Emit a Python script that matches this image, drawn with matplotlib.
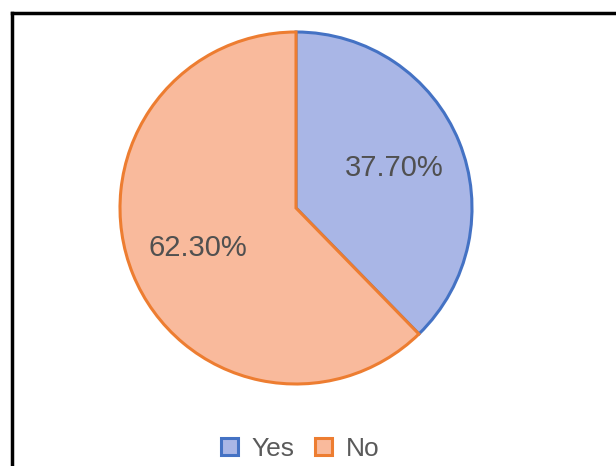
import matplotlib.pyplot as plt
from matplotlib.lines import Line2D

#data
labels = ['Yes', 'No']
values = [37.7, 62.3]
fills = ['#A9B6E6', '#F9BA9C']
edges = ['#4472C4', '#ED7D31']

#figure
fig = plt.figure(figsize=(6.16, 4.66), dpi=100)
W, H = 616, 466
cx, cy, r = 296, 208, 176
ax = fig.add_axes([(cx - r) / W, (H - cy - r) / H, 2 * r / W, 2 * r / H])

wedges, texts, autotexts = ax.pie(values, colors=fills, startangle=90, counterclock=False,
                                  autopct='%.2f%%', pctdistance=0.6,
                                  wedgeprops=dict(linewidth=2.2),
                                  textprops=dict(fontsize=21, color='#505050', family='Liberation Sans'))
for w, ec in zip(wedges, edges):
    w.set_edgecolor(ec)
ax.set_xlim(-1, 1)
ax.set_ylim(-1, 1)

#frame lines (top and left)
fig.add_artist(Line2D([12 / W, 1], [1 - 13 / H, 1 - 13 / H], color='black', lw=2.5))
fig.add_artist(Line2D([12 / W, 12 / W], [0, 1 - 13 / H], color='black', lw=2.5))

#legend
leg = fig.legend(wedges, labels, loc='lower center', bbox_to_anchor=(0.487, -0.04), ncol=2,
                 frameon=False, handlelength=0.65, handleheight=0.65, handletextpad=0.5,
                 columnspacing=0.8, prop=dict(family='Liberation Sans', size=19))
for t in leg.get_texts():
    t.set_color('#5a5a5a')

plt.savefig('out.png', dpi=100)
